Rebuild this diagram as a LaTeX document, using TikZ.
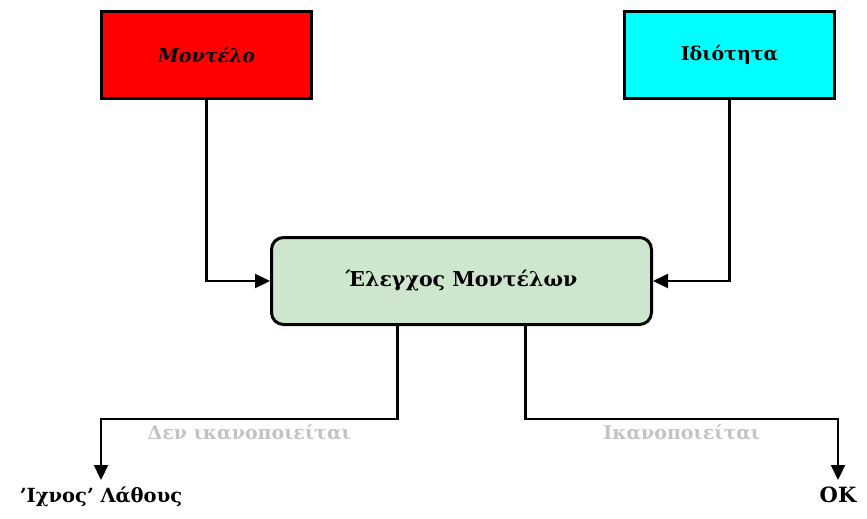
\documentclass[tikz,border=0pt]{standalone}
\usepackage{fontspec}
\setmainfont{DejaVu Serif}
\usepackage{tikz}
\usetikzlibrary{arrows.meta,positioning}
\definecolor{modelred}{RGB}{255,0,0}
\definecolor{propcyan}{RGB}{0,255,255}
\definecolor{checkgreen}{RGB}{206,230,206}
\definecolor{lblgrey}{RGB}{195,195,195}
\tikzset{
  inbox/.style={draw, line width=3pt, minimum width=210pt,
                minimum height=87pt, align=center,
                font=\fontsize{19}{22}\selectfont\bfseries},
  chk/.style={draw, line width=3pt, rounded corners=12pt, fill=checkgreen,
              minimum width=380pt, minimum height=87pt,
              font=\fontsize{20.5}{24}\selectfont\bfseries},
  flow/.style={line width=2.2pt, -{Triangle[length=15pt, width=14pt]}},
  lbl/.style={text=lblgrey, font=\fontsize{19}{22}\selectfont\bfseries},
  res/.style={font=\fontsize{19.5}{22}\selectfont\bfseries,
              inner xsep=2pt, inner ysep=7pt},
}

\begin{document}
\begin{tikzpicture}[x=1pt, y=-1pt]
    \useasboundingbox (0,0) rectangle (867,519);
    \node[inbox, fill=modelred] (model) at (206.5,55) {\itshape Μοντέλο};
    \node[inbox, fill=propcyan] (prop) at (729.5,55) {Ιδιότητα};
    \node[chk] (check) at (461.5,281) {Έλεγχος Μοντέλων};
    \node[res, anchor=north] (err) at (101,480) {'Ιχνος' Λάθους};
    \node[res, anchor=north] (ok) at (838,480) {\fontsize{21}{24}\selectfont OK};
    \coordinate (nobend) at (101,419);
    \coordinate (okbend) at (838,419);
    \draw[flow] (model.south) |- (check.west);
    \draw[flow] (prop.south) |- (check.east);
    \draw[flow] ([xshift=-64pt]check.south) |- node[lbl, pos=0.75, below=1pt] {Δεν ικανοποιείται} (nobend) -- (err.north);
    \draw[flow] ([xshift=64pt]check.south) |- node[lbl, pos=0.75, below=1pt] {Ικανοποιείται} (okbend) -- (ok.north);
  \end{tikzpicture}
\end{document}
